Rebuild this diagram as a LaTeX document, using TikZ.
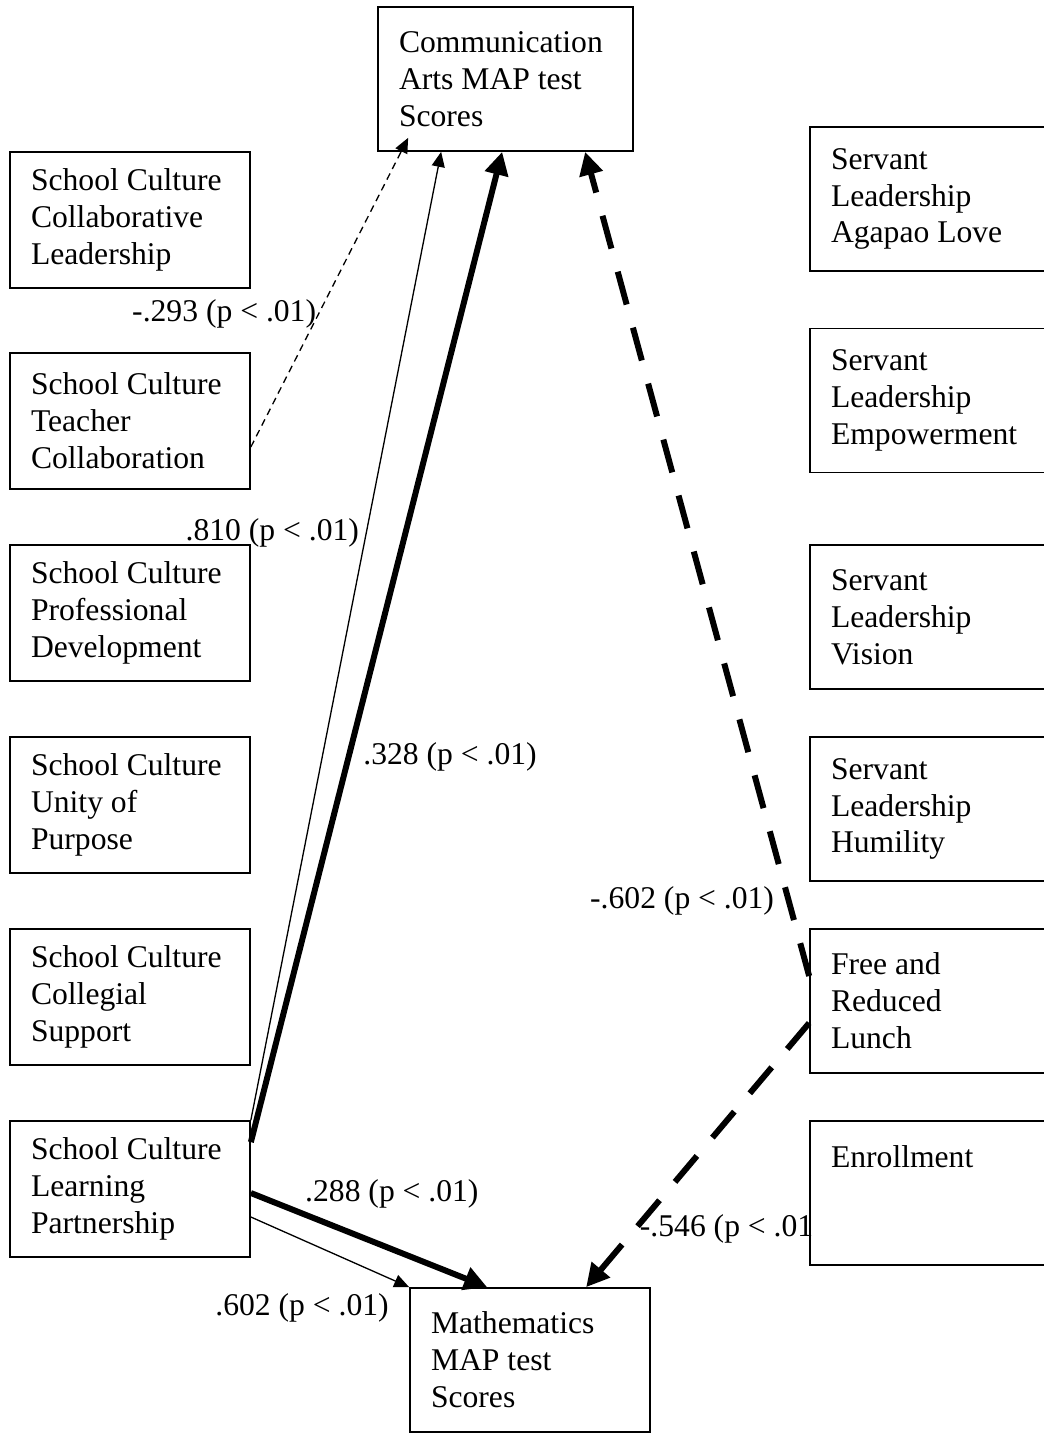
\documentclass[tikz,border=0pt]{standalone}
\usepackage{fontspec}
\setmainfont{Liberation Serif}
\usetikzlibrary{arrows.meta,calc}

\begin{document}
\begin{tikzpicture}[
    x=0.02cm, y=-0.02cm,
    every node/.style={font=\fontsize{18}{21}\selectfont},
    leftbox/.style={rectangle, draw, line width=1pt, fill=white, minimum width=4.8cm, minimum height=2.72cm, text width=3.96cm, inner xsep=0.42cm, inner ysep=0pt, align=flush left},
    rightbox/.style={leftbox, minimum width=5cm, minimum height=2.88cm, text width=4.16cm},
    scorebox/.style={leftbox, minimum height=2.88cm},
    thinlink/.style={line width=0.75pt, -{Triangle[length=0.3cm, width=0.26cm]}},
    boldlink/.style={line width=3.4pt, -{Triangle[length=0.46cm, width=0.46cm]}},
    weaklink/.style={thinlink, dash pattern=on 0.14cm off 0.1cm},
    neglink/.style={boldlink, dash pattern=on 0.68cm off 0.48cm},
    coef/.style={inner sep=1pt}
]
    \useasboundingbox (0,0) rectangle (1044,1433);

    % Outcomes
    \node[scorebox, minimum width=5.1cm, text width=4.26cm] (ca) at (505.5,79) {Communication\\Arts MAP test\\Scores};
    \node[scorebox] (math) at (530,1360) {Mathematics\\MAP test\\Scores};

    % School culture
    \node[leftbox] (cl) at (130,220) {School Culture\\Collaborative\\Leadership};
    \node[leftbox] (tc) at (130,421) {School Culture\\Teacher\\Collaboration};
    \node[leftbox] (pd) at (130,613) {School Culture\\Professional\\Development};
    \node[leftbox] (up) at (130,805) {School Culture\\Unity of\\Purpose};
    \node[leftbox] (cs) at (130,997) {School Culture\\Collegial\\Support};
    \node[leftbox] (lp) at (130,1189) {School Culture\\Learning\\Partnership};

    % Servant leadership and demographics
    \node[rightbox] (al) at (935,199) {Servant\\Leadership\\Agapao Love};
    \node[rightbox] (em) at (935,400.5) {Servant\\Leadership\\Empowerment};
    \node[rightbox] (vi) at (935,617) {Servant\\Leadership\\Vision};
    \node[rightbox] (hu) at (935,809) {Servant\\Leadership\\Humility};
    \node[rightbox] (frl) at (935,1001) {Free and\\Reduced\\Lunch};
    \node[rightbox] (en) at (935,1193) {Enrollment\\~\\~};

    % Links to communication arts
    \draw[weaklink] ($(tc.east)+(0,26)$) -- node[coef, pos=0.43, anchor=east] {-.293 (p < .01)} ($(ca.south west)+(31,-14)$);
    \draw[thinlink] (lp.north east) -- node[coef, pos=0.607, anchor=east, xshift=-0.1cm] {.810 (p < .01)} ($(ca.south west)+(64,0)$);
    \draw[boldlink] ($(lp.north east)+(0,22)$) -- node[coef, pos=0.389, anchor=west, xshift=0.2cm] {.328 (p < .01)} ($(ca.south west)+(125,0)$);
    \draw[neglink] ($(frl.west)+(0,-25)$) -- node[coef, pos=0.091, anchor=east, xshift=-0.2cm] {-.602 (p < .01)} ($(ca.south west)+(208,0)$);

    % Links to mathematics
    \draw[boldlink] ($(lp.east)+(0,4)$) -- node[coef, pos=0.21, anchor=south west] {.288 (p < .01)} ($(math.north west)+(78,0)$);
    \draw[thinlink] ($(lp.east)+(0,28)$) -- node[coef, at end, anchor=north east, xshift=-0.36cm, yshift=-0.08cm] {.602 (p < .01)} (math.north west);
    \draw[neglink] ($(frl.west)+(0,22)$) -- node[coef, pos=0.78, anchor=west] {-.546 (p < .01} ($(math.north west)+(177,0)$);

\end{tikzpicture}
\end{document}
